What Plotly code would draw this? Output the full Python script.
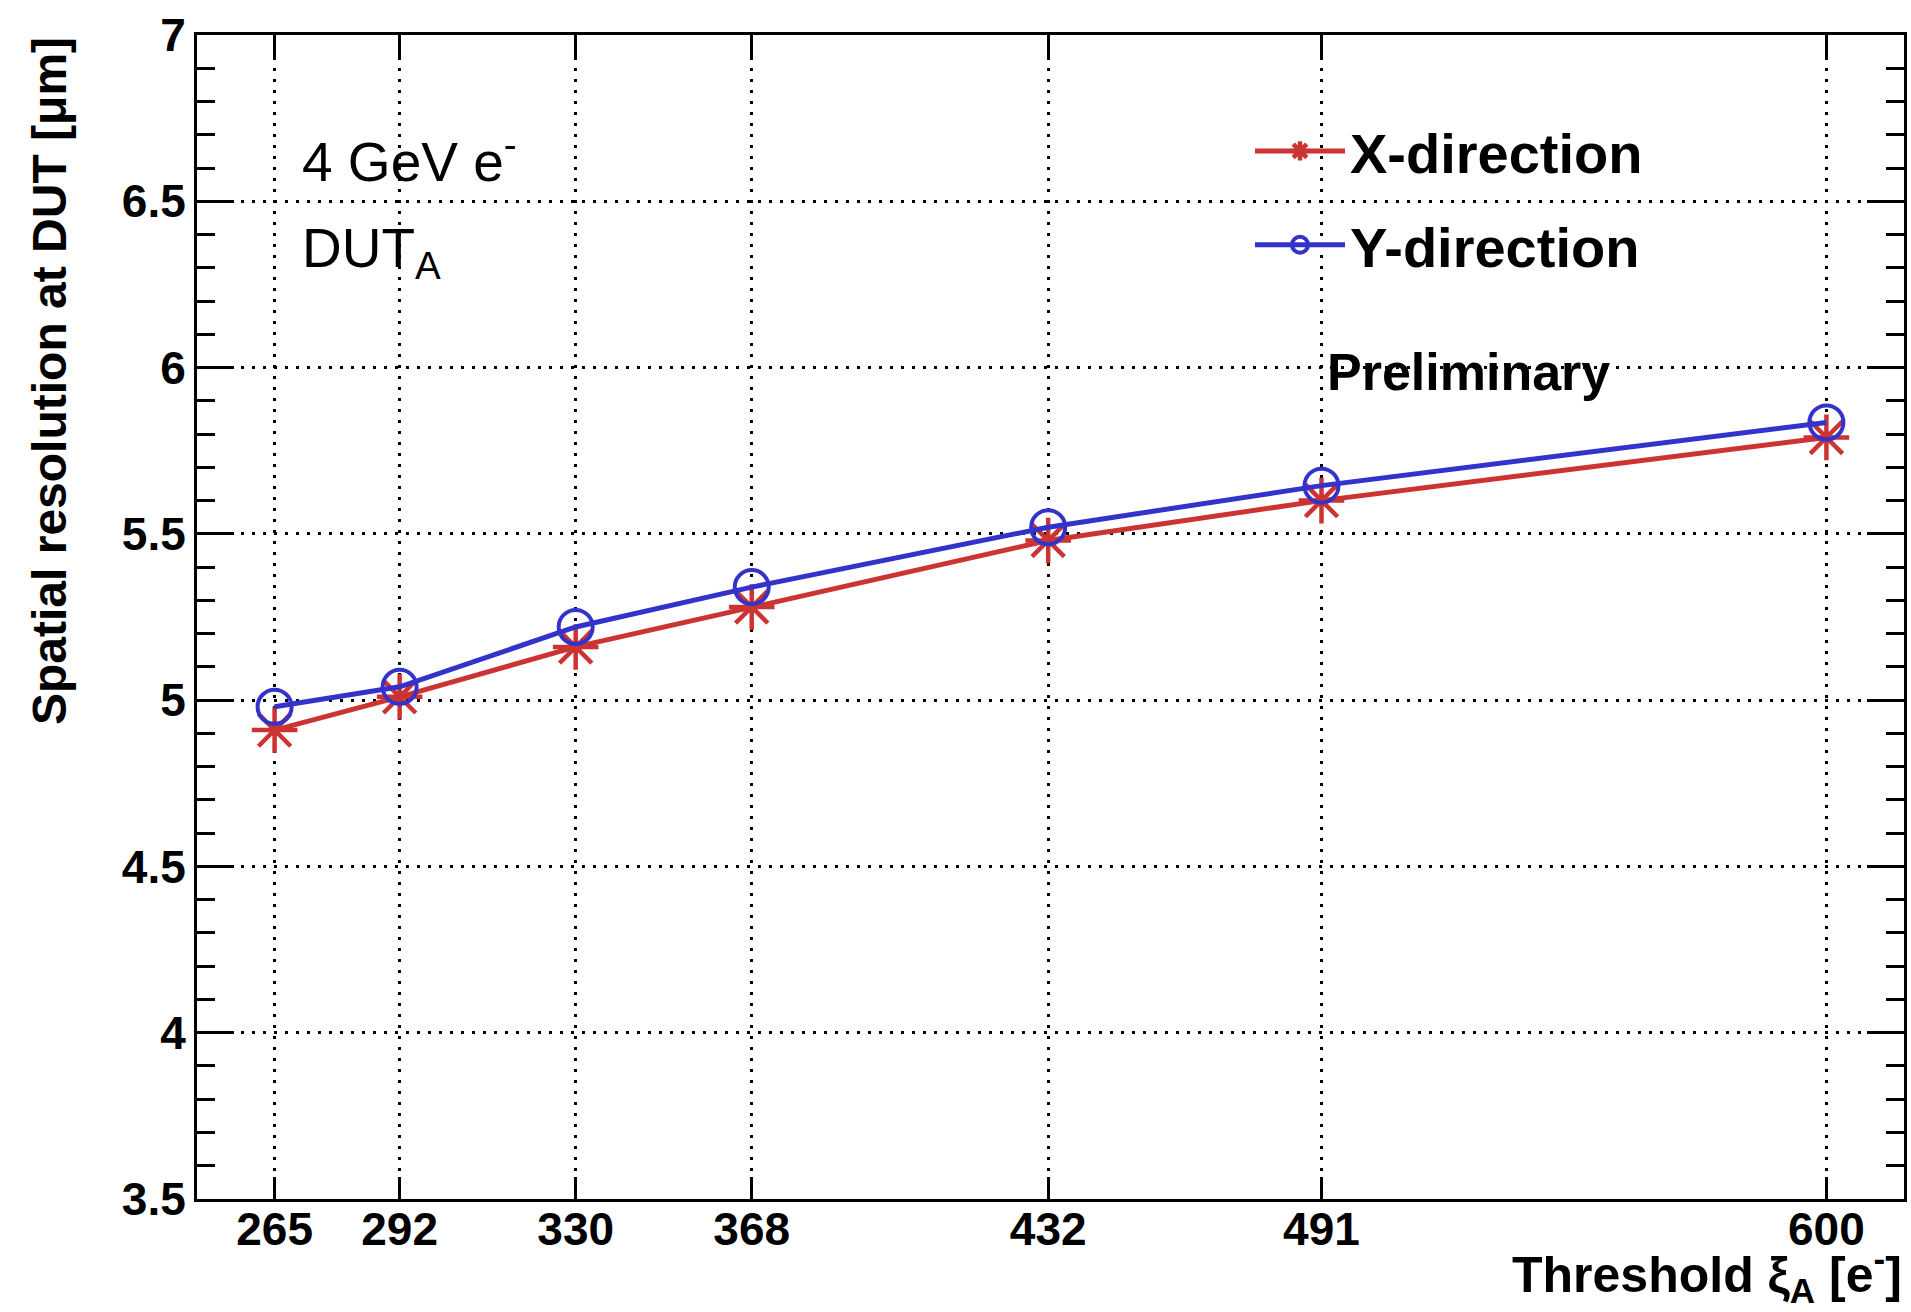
import plotly.graph_objects as go

# ---- data ----
thresholds = [265, 292, 330, 368, 432, 491, 600]
x_direction = [4.91, 5.01, 5.16, 5.28, 5.48, 5.60, 5.79]
y_direction = [4.98, 5.04, 5.22, 5.34, 5.52, 5.645, 5.835]
x_tick_labels = [str(t) for t in thresholds]
y_tick_values = [3.5, 4, 4.5, 5, 5.5, 6, 6.5, 7]
y_tick_labels = ["3.5", "4", "4.5", "5", "5.5", "6", "6.5", "7"]

RED = "#cc3333"
BLUE = "#3333cc"
FONT = "Liberation Sans, Arial, Helvetica, sans-serif"

L, R, T, B = 197, 7, 35, 113
PW = 1911 - L - R
PH = 1312 - T - B


def px(xp):
    return (xp - L) / PW


def py(yp):
    return 1 - (yp - T) / PH


fig = go.Figure()
fig.add_trace(go.Scatter(
    x=thresholds, y=x_direction, mode="lines+markers", name="X-direction",
    legendgroup="x",
    line=dict(color=RED, width=5),
    marker=dict(symbol="asterisk-open", size=38, color=RED, line=dict(color=RED, width=4.5)),
))
fig.add_trace(go.Scatter(
    x=thresholds, y=y_direction, mode="lines+markers", name="Y-direction",
    legendgroup="y",
    line=dict(color=BLUE, width=5),
    marker=dict(symbol="circle-open", size=34, color=BLUE, line=dict(color=BLUE, width=4)),
))

fig.update_layout(
    width=1911, height=1312,
    margin=dict(l=L, r=R, t=T, b=B, autoexpand=False),
    paper_bgcolor="white", plot_bgcolor="white",
    font=dict(family=FONT, color="black"),
    showlegend=True,
    legend=dict(
        x=px(1250), y=py(108), xanchor="left", yanchor="top",
        bgcolor="rgba(0,0,0,0)", borderwidth=0,
        font=dict(family=FONT, size=56, color="black", weight="bold"),
        itemwidth=90, traceorder="grouped", tracegroupgap=18,
    ),
    xaxis=dict(
        range=[248.25, 616.75], automargin=False,
        tickvals=thresholds, ticktext=x_tick_labels,
        ticks="inside", ticklen=22, tickwidth=3, tickcolor="black",
        showline=True, linewidth=3, linecolor="black", mirror="ticks",
        showgrid=True, gridcolor="black", gridwidth=3, griddash="3px,8px",
        zeroline=False,
        tickfont=dict(family=FONT, size=46, color="black", weight="bold"),
        ticklabelstandoff=-12,
    ),
    yaxis=dict(
        range=[3.5, 7], automargin=False,
        tickvals=y_tick_values, ticktext=y_tick_labels,
        ticks="inside", ticklen=37, tickwidth=3, tickcolor="black",
        showline=True, linewidth=3, linecolor="black", mirror="ticks",
        showgrid=True, gridcolor="black", gridwidth=3, griddash="3px,8px",
        zeroline=False,
        minor=dict(dtick=0.1, ticks="inside", ticklen=18, tickwidth=3, tickcolor="black", showgrid=False),
        tickfont=dict(family=FONT, size=46, color="black", weight="bold"),
        ticklabelstandoff=-1,
    ),
    annotations=[
        dict(text="Spatial resolution at DUT [μm]", textangle=-90,
             xref="paper", yref="paper", x=px(49), y=1.0,
             xanchor="center", yanchor="top", showarrow=False,
             font=dict(family=FONT, size=48, color="black", weight="bold")),
        dict(text="Threshold ξ<sub>A</sub> [e<sup>-</sup>]",
             xref="paper", yref="paper", x=1.0, y=py(1274),
             xanchor="right", yanchor="middle", showarrow=False,
             font=dict(family=FONT, size=50, color="black", weight="bold")),
        dict(text="4 GeV e<sup>-</sup>",
             xref="paper", yref="paper", x=px(300), y=py(158),
             xanchor="left", yanchor="middle", showarrow=False,
             font=dict(family=FONT, size=55, color="black")),
        dict(text="DUT<sub>A</sub>",
             xref="paper", yref="paper", x=px(300), y=py(252),
             xanchor="left", yanchor="middle", showarrow=False,
             font=dict(family=FONT, size=55, color="black")),
        dict(text="Preliminary",
             xref="paper", yref="paper", x=px(1325), y=py(372),
             xanchor="left", yanchor="middle", showarrow=False,
             font=dict(family=FONT, size=52, color="black", weight="bold")),
    ],
)

fig.write_html("out.html", config={"displayModeBar": False},
               post_script="document.body.style.margin='0';")
